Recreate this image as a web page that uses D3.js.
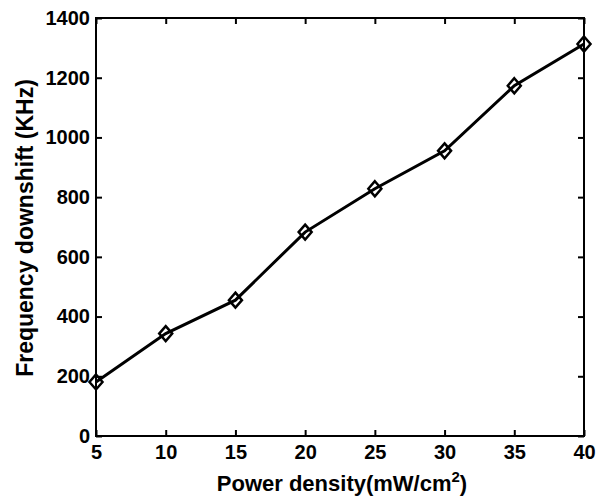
<!DOCTYPE html>
<html>
<head>
<meta charset="utf-8">
<script src="https://cdn.jsdelivr.net/npm/d3@7"></script>
<style>
  body { margin: 0; background: #fff; }
  text { font-family: "Liberation Sans", Arial, sans-serif; font-weight: bold; fill: #000; }
</style>
</head>
<body>
<div id="chart"></div>
<script>
// 資料
const powerDensity = [5, 10, 15, 20, 25, 30, 35, 40];
const downshift = [181, 343, 455, 683, 828, 955, 1173, 1313];
const xTicks = [5, 10, 15, 20, 25, 30, 35, 40];
const yTicks = [0, 200, 400, 600, 800, 1000, 1200, 1400];

const W = 603, H = 498;
const margin = {top: 18, right: 19, bottom: 62, left: 96};
const width = W - margin.left - margin.right;
const height = H - margin.top - margin.bottom;

const svg = d3.select('#chart').append('svg')
  .attr('width', W).attr('height', H);
const g = svg.append('g').attr('transform', `translate(${margin.left},${margin.top})`);

const x = d3.scaleLinear().domain([5, 40]).range([0, width]);
const y = d3.scaleLinear().domain([0, 1400]).range([height, 0]);

// 坐標軸（刻度朝內）
const styleAxis = sel => {
  sel.select('.domain').remove();
  sel.selectAll('line').attr('stroke', '#000').attr('stroke-width', 2);
  sel.selectAll('text').style('font-size', '20px');
};
g.append('g').attr('transform', `translate(0,${height})`)
  .call(d3.axisBottom(x).tickValues(xTicks).tickFormat(d3.format('d')).tickSizeInner(-6).tickSizeOuter(0).tickPadding(9))
  .call(styleAxis);
g.append('g')
  .call(d3.axisLeft(y).tickValues(yTicks).tickFormat(d3.format('d')).tickSizeInner(-6).tickSizeOuter(0).tickPadding(6))
  .call(styleAxis);
g.append('g')
  .call(d3.axisTop(x).tickValues(xTicks).tickSizeInner(-6).tickSizeOuter(0).tickFormat(''))
  .call(styleAxis);
g.append('g').attr('transform', `translate(${width},0)`)
  .call(d3.axisRight(y).tickValues(yTicks).tickSizeInner(-6).tickSizeOuter(0).tickFormat(''))
  .call(styleAxis);

// 外框
g.append('rect').attr('width', width).attr('height', height)
  .attr('fill', 'none').attr('stroke', '#000').attr('stroke-width', 2);

// 折線
const pts = powerDensity.map((p, i) => [p, downshift[i]]);
g.append('path').datum(pts)
  .attr('fill', 'none').attr('stroke', '#000').attr('stroke-width', 3)
  .attr('d', d3.line().x(d => x(d[0])).y(d => y(d[1])));

// 菱形標記
g.selectAll('.mk').data(pts).enter().append('path')
  .attr('class', 'mk')
  .attr('transform', d => `translate(${x(d[0])},${y(d[1])})`)
  .attr('d', 'M0,-7.5L6.5,0L0,7.5L-6.5,0Z')
  .attr('fill', 'none').attr('stroke', '#000').attr('stroke-width', 2.5);

// 軸標題
svg.append('text')
  .attr('x', 342).attr('y', 491)
  .attr('text-anchor', 'middle').style('font-size', '22px')
  .html('Power density(mW/cm<tspan dy="-9" font-size="15px">2</tspan><tspan dy="9">)</tspan>');
svg.append('text')
  .attr('transform', 'translate(33,228) rotate(-90)')
  .attr('text-anchor', 'middle').style('font-size', '23px')
  .text('Frequency downshift (KHz)');
</script>
</body>
</html>
